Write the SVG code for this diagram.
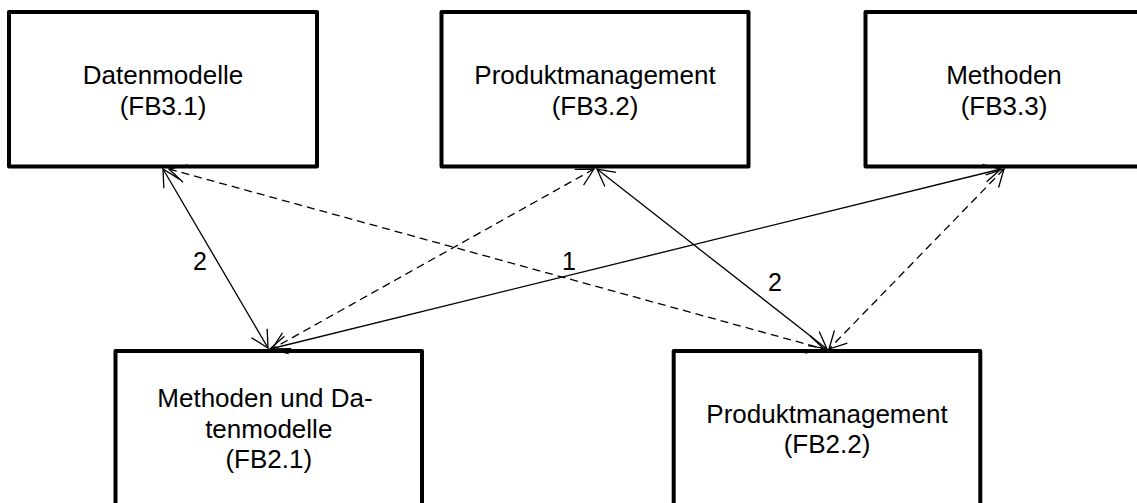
<svg xmlns="http://www.w3.org/2000/svg" width="1137" height="503" viewBox="0 0 1137 503">
<style>
.box{fill:#fff;stroke:#000;stroke-width:4;stroke-linejoin:round}
.t{font-family:"Liberation Sans",Arial,sans-serif;font-size:26px;fill:#000;text-anchor:middle}
.c{fill:none;stroke:#000;stroke-width:1.3}
.d{stroke-dasharray:8 5}
.lbl{font-family:"Liberation Sans",Arial,sans-serif;font-size:25px;fill:#000;text-anchor:middle}
</style>
<defs>
<marker id="ah" markerUnits="userSpaceOnUse" viewBox="-20 -20 40 40" markerWidth="40" markerHeight="40" refX="0" refY="0" orient="auto-start-reverse" overflow="visible">
<path d="M-17,-9 L0,0 L-17,9" fill="none" stroke="#000" stroke-width="1.3" stroke-dasharray="none"/>
</marker>
</defs>
<g id="n1">
<rect class="box" x="9" y="12" width="308" height="154.5"/>
<text class="t" x="163" y="84">Datenmodelle</text>
<text class="t" x="163" y="115">(FB3.1)</text>
</g>
<g id="n2">
<rect class="box" x="441.5" y="12" width="307" height="154.5"/>
<text class="t" x="595" y="84">Produktmanagement</text>
<text class="t" x="595" y="115">(FB3.2)</text>
</g>
<g id="n3">
<rect class="box" x="865.5" y="12" width="277" height="154.5"/>
<text class="t" x="1004" y="84">Methoden</text>
<text class="t" x="1004" y="115">(FB3.3)</text>
</g>
<g id="n4">
<rect class="box" x="115.5" y="351" width="306.5" height="170"/>
<text class="t" x="265" y="407">Methoden und Da-</text>
<text class="t" x="268.75" y="438">tenmodelle</text>
<text class="t" x="268.75" y="468">(FB2.1)</text>
</g>
<g id="n5">
<rect class="box" x="673.7" y="351" width="306.6" height="170"/>
<text class="t" x="827" y="423">Produktmanagement</text>
<text class="t" x="827" y="453">(FB2.2)</text>
</g>
<g id="connectors">
<line class="c" x1="163" y1="169" x2="268" y2="348" marker-start="url(#ah)" marker-end="url(#ah)"/>
<line class="c d" x1="169" y1="169" x2="824" y2="349" marker-start="url(#ah)" marker-end="url(#ah)"/>
<line class="c d" x1="594" y1="169" x2="272" y2="349" marker-start="url(#ah)" marker-end="url(#ah)"/>
<line class="c" x1="597" y1="169" x2="827" y2="349" marker-start="url(#ah)" marker-end="url(#ah)"/>
<line class="c" x1="1001" y1="169" x2="270" y2="349" marker-start="url(#ah)" marker-end="url(#ah)"/>
<line class="c d" x1="1004" y1="169" x2="829" y2="349" marker-start="url(#ah)" marker-end="url(#ah)"/>
<text class="lbl" x="200" y="270">2</text>
<text class="lbl" x="569" y="270">1</text>
<text class="lbl" x="775" y="291">2</text>
</g>
</svg>
